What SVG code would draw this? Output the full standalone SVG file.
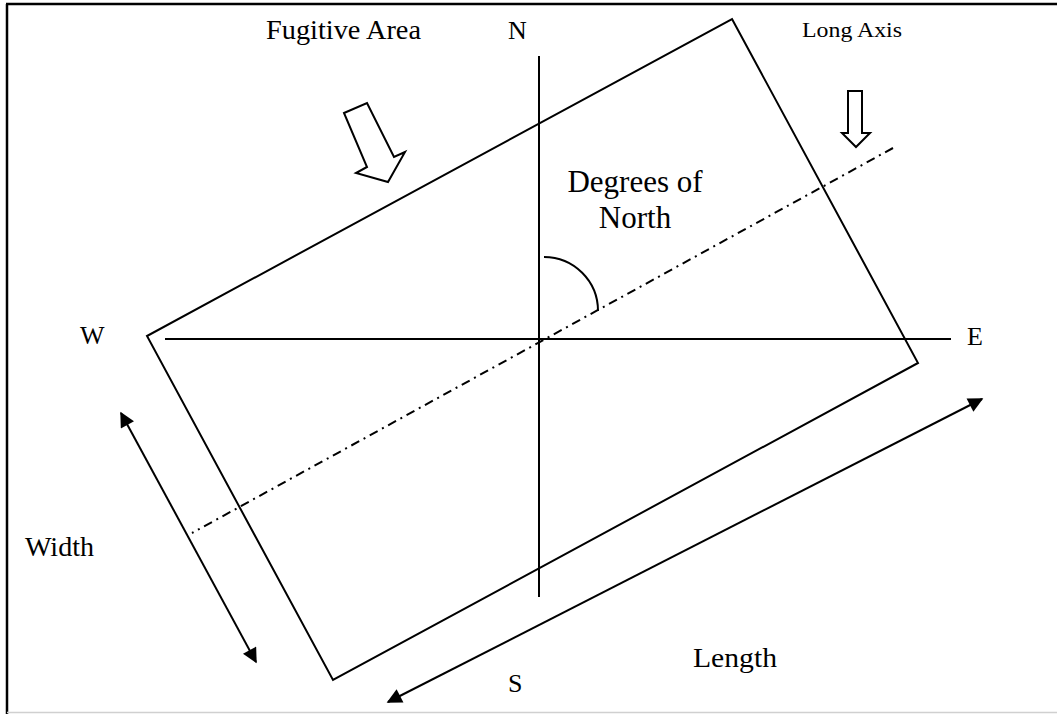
<svg xmlns="http://www.w3.org/2000/svg" width="1057" height="714" viewBox="0 0 1057 714">
<style>
  .ln { stroke:#000; stroke-width:2; fill:none; }
  .axis { stroke:#000; stroke-width:2; fill:none; stroke-dasharray:9,5,2,5; }
  .blk { stroke:#000; stroke-width:2; fill:#fff; stroke-linejoin:miter; }
  .dim { stroke:#000; stroke-width:2; fill:none; marker-start:url(#ah); marker-end:url(#ah); }
  text { font-family:"Liberation Serif","Times New Roman",serif; fill:#000; }
  .t26 { font-size:26px; }
  .t27 { font-size:27px; }
</style>
<defs>
  <marker id="ah" viewBox="0 0 10 10" refX="9" refY="5" markerUnits="userSpaceOnUse" markerWidth="18" markerHeight="15" orient="auto-start-reverse">
    <path d="M0,0 L10,5 L0,10 z" fill="#000"/>
  </marker>
</defs>
<rect width="1057" height="714" fill="#fff"/>
<g id="frame">
  <line x1="6" y1="4" x2="1057" y2="4" stroke="#000" stroke-width="2.5"/>
  <line x1="7" y1="4" x2="7" y2="714" stroke="#000" stroke-width="2.5"/>
  <line x1="7" y1="712.5" x2="1057" y2="712.5" stroke="#d0d0d0" stroke-width="1.5"/>
</g>
<g id="fugitive-area">
  <polygon class="ln" points="732,19 918,363 333,680 147,336"/>
</g>
<g id="compass">
  <line class="ln" x1="539" y1="56" x2="539" y2="597"/>
  <line class="ln" x1="165" y1="339" x2="951" y2="339"/>
</g>
<g id="long-axis">
  <line class="axis" x1="893" y1="148" x2="192" y2="533"/>
</g>
<g id="angle">
  <path class="ln" d="M544,257 A54,54 0 0 1 598,311"/>
</g>
<g id="fugitive-arrow">
  <polygon class="blk" points="344,113 367,103 394,157 405,152 388,182 356,173 367,167"/>
</g>
<g id="long-axis-arrow">
  <polygon class="blk" points="848,91 862,91 862,133 870,133 856,147 842,133 848,133"/>
</g>
<g id="connectors">
  <line class="dim" x1="121" y1="413" x2="256" y2="662"/>
  <line class="dim" x1="388" y1="702" x2="982" y2="399"/>
</g>
<g id="labels">
  <text class="t27" x="266" y="39" textLength="155" lengthAdjust="spacingAndGlyphs">Fugitive Area</text>
  <text class="t26" x="508" y="39">N</text>
  <text x="802" y="37" font-size="22" textLength="100" lengthAdjust="spacingAndGlyphs">Long Axis</text>
  <text x="635" y="192" font-size="31" text-anchor="middle">Degrees of</text>
  <text x="635" y="228" font-size="31" text-anchor="middle">North</text>
  <text class="t26" x="80" y="344">W</text>
  <text class="t26" x="967" y="345">E</text>
  <text class="t27" x="25" y="556" textLength="69" lengthAdjust="spacingAndGlyphs">Width</text>
  <text class="t27" x="693" y="667" textLength="84" lengthAdjust="spacingAndGlyphs">Length</text>
  <text class="t26" x="508" y="692">S</text>
</g>
</svg>
